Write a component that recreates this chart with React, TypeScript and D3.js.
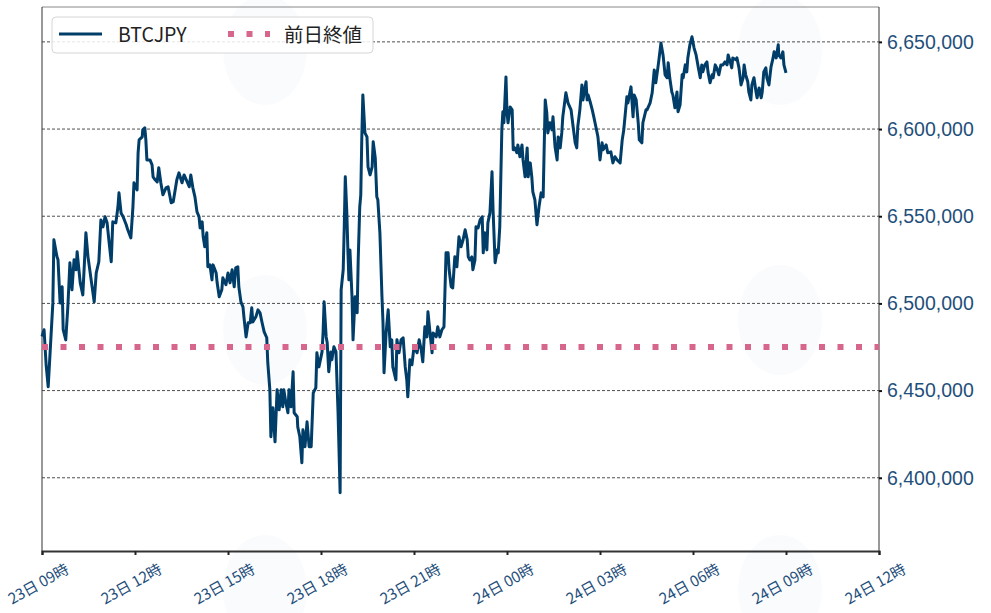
import React, { useEffect, useRef } from 'react';
import * as d3 from 'd3';

const seriesName = 'BTCJPY';
const prevCloseName = '前日終値';
const prevClose = 6475000;
const startTime = '2024-01-23T09:00';
const endTime = '2024-01-24T12:00';
const yTicks = [6400000, 6450000, 6500000, 6550000, 6600000, 6650000];

// minutes elapsed since 23日 09時
const minutes = [
  0, 4, 8, 12, 21, 23, 29, 31, 35, 39, 41, 46, 50, 54, 58, 62, 66, 68, 74, 79,
  85, 89, 97, 101, 105, 110, 114, 118, 122, 126, 130, 134, 137, 143, 147, 149, 153, 157, 163, 166,
  172, 176, 178, 184, 186, 188, 194, 195, 199, 201, 203, 209, 213, 215, 219, 223, 226, 230, 234, 240,
  244, 250, 254, 261, 265, 271, 275, 281, 285, 288, 292, 296, 300, 304, 306, 310, 312, 315, 319, 321,
  325, 329, 331, 337, 339, 343, 348, 350, 356, 360, 364, 368, 372, 375, 379, 381, 385, 389, 391, 395,
  399, 403, 406, 408, 414, 418, 422, 426, 430, 435, 437, 441, 443, 447, 451, 455, 459, 463, 466, 468,
  472, 476, 478, 482, 486, 488, 494, 495, 499, 503, 505, 509, 513, 517, 521, 525, 530, 532, 536, 542,
  544, 546, 550, 552, 555, 559, 561, 565, 569, 573, 577, 579, 583, 585, 587, 590, 592, 594, 596, 600,
  602, 606, 610, 612, 615, 617, 619, 621, 625, 629, 631, 635, 639, 641, 645, 648, 650, 654, 658, 660,
  662, 666, 670, 674, 677, 679, 685, 687, 691, 695, 699, 703, 706, 708, 712, 716, 720, 726, 730, 734,
  737, 741, 745, 747, 751, 755, 757, 763, 766, 770, 774, 778, 782, 786, 788, 792, 795, 799, 803, 807,
  811, 815, 819, 823, 825, 828, 832, 834, 838, 840, 844, 848, 852, 854, 857, 861, 863, 867, 871, 873,
  877, 881, 883, 886, 890, 892, 894, 898, 900, 902, 906, 910, 912, 915, 919, 921, 925, 929, 931, 935,
  939, 941, 945, 948, 950, 954, 958, 962, 966, 970, 972, 974, 977, 979, 983, 987, 989, 993, 997, 999,
  1003, 1006, 1008, 1014, 1018, 1024, 1028, 1032, 1035, 1037, 1041, 1045, 1047, 1053, 1055, 1057, 1061, 1065, 1068, 1072,
  1076, 1080, 1084, 1086, 1092, 1095, 1101, 1105, 1109, 1113, 1119, 1123, 1126, 1132, 1134, 1140, 1144, 1146, 1150, 1154,
  1156, 1161, 1163, 1169, 1171, 1177, 1181, 1185, 1188, 1192, 1194, 1198, 1202, 1206, 1210, 1212, 1215, 1219, 1221, 1225,
  1229, 1231, 1235, 1239, 1241, 1245, 1248, 1250, 1254, 1258, 1262, 1266, 1270, 1274, 1277, 1279, 1283, 1287, 1289, 1293,
  1297, 1299, 1303, 1306, 1310, 1314, 1318, 1322, 1326, 1328, 1332, 1335, 1337, 1343, 1345, 1349, 1353, 1357, 1359, 1362,
  1366, 1368, 1372, 1374, 1378, 1382, 1384, 1388, 1392, 1394, 1397, 1401, 1403, 1407, 1411, 1415, 1417, 1421, 1425, 1426,
  1430, 1434, 1436, 1440,
];

const prices = [
  6481000, 6484900, 6464800, 6452200, 6500300, 6536500, 6526700, 6525000, 6500300, 6509500,
  6484900, 6479100, 6498000, 6523300, 6507800, 6525000, 6519300, 6529600, 6511800, 6504900,
  6540500, 6526700, 6509500, 6500900, 6517500, 6523900, 6547900, 6543900, 6549700, 6546200,
  6534700, 6523900, 6546800, 6546200, 6555400, 6563400, 6551900, 6549700, 6545100, 6542200,
  6537600, 6555400, 6569200, 6565100, 6586400, 6593800, 6595500, 6599500, 6600700, 6593800,
  6582300, 6582300, 6579500, 6572600, 6570900, 6569700, 6577800, 6569200, 6562300, 6566300,
  6566900, 6557700, 6558300, 6570900, 6574900, 6569200, 6573700, 6569700, 6566900, 6573700,
  6566300, 6561100, 6552500, 6549700, 6543300, 6546800, 6538200, 6532500, 6540500, 6521000,
  6522100, 6513500, 6522100, 6517500, 6511800, 6503800, 6507800, 6514700, 6510700, 6517500,
  6511800, 6519300, 6509500, 6520400, 6521000, 6509500, 6500900, 6498000, 6491700, 6480800,
  6488900, 6488900, 6497500, 6489400, 6492300, 6496300, 6494600, 6488900, 6483700, 6480300,
  6466000, 6450500, 6423500, 6440100, 6420600, 6450500, 6439000, 6450500, 6440700, 6450500,
  6443000, 6437300, 6450500, 6440700, 6460800, 6437300, 6435000, 6429200, 6423500, 6408600,
  6427500, 6417800, 6432100, 6417800, 6417800, 6448700, 6451600, 6471700, 6463600, 6472200,
  6483100, 6500900, 6480800, 6477400, 6460800, 6472200, 6467700, 6475100, 6472200, 6437300,
  6391400, 6507800, 6519300, 6543900, 6572600, 6551900, 6530700, 6513500, 6530700, 6503800,
  6479100, 6503800, 6494600, 6525000, 6555400, 6562300, 6595500, 6619600, 6597800, 6595500,
  6578300, 6573700, 6578300, 6592700, 6583500, 6561100, 6559400, 6540500, 6503800, 6488900,
  6460200, 6483100, 6496300, 6475100, 6479100, 6463600, 6456200, 6479100, 6471700, 6479100,
  6480300, 6463600, 6456200, 6446400, 6467700, 6464800, 6475100, 6471700, 6479100, 6473400,
  6466500, 6486600, 6480800, 6495200, 6483100, 6471700, 6483100, 6480800, 6486600, 6480800,
  6484900, 6486600, 6529000, 6529000, 6519300, 6509500, 6508900, 6526700, 6521000, 6538200,
  6532500, 6536500, 6542200, 6536500, 6526700, 6525000, 6526700, 6519300, 6525000, 6543900,
  6543300, 6547900, 6549700, 6529000, 6540500, 6530700, 6546200, 6551900, 6575500, 6553700,
  6523300, 6530700, 6529000, 6543900, 6599500, 6609900, 6603600, 6629900, 6609300, 6603600,
  6612700, 6611000, 6588100, 6589200, 6586400, 6590900, 6584100, 6590900, 6582300, 6572600,
  6589200, 6572600, 6580600, 6572600, 6564000, 6559400, 6545100, 6555400, 6563400, 6561100,
  6589800, 6616700, 6609300, 6597800, 6603600, 6599500, 6607000, 6589800, 6582300, 6595500,
  6589200, 6597800, 6607000, 6620800, 6615000, 6611000, 6601300, 6592100, 6589200, 6601300,
  6611000, 6625300, 6616700, 6627100, 6616700, 6619600, 6615600, 6611000, 6607000, 6601300,
  6595500, 6582300, 6592100, 6588100, 6590900, 6586400, 6586900, 6580600, 6584100, 6582300,
  6580600, 6593800, 6599500, 6618500, 6615000, 6624200, 6607000, 6619600, 6616700, 6603600,
  6593800, 6592100, 6603600, 6611000, 6611000, 6615000, 6620800, 6633900, 6626500, 6635100,
  6639700, 6649400, 6642500, 6631100, 6629400, 6638000, 6629400, 6621300, 6619600, 6612200,
  6621300, 6609900, 6613900, 6631100, 6629400, 6636800, 6632800, 6640800, 6648300, 6652900,
  6646600, 6642500, 6635700, 6629400, 6636800, 6632800, 6636800, 6638500, 6632800, 6626500,
  6631100, 6629400, 6636800, 6635100, 6631100, 6636800, 6636800, 6638500, 6636800, 6642500,
  6638500, 6635100, 6640800, 6639700, 6640800, 6635100, 6625300, 6629400, 6636800, 6631100,
  6627100, 6621300, 6616700, 6625300, 6629400, 6621300, 6617900, 6623600, 6617900, 6621300,
  6632800, 6635100, 6629400, 6625300, 6635700, 6640800, 6644300, 6640800, 6648300, 6642500,
  6640800, 6644300, 6636800, 6632200,
];

const lineColor = '#003d68';
const closeColor = '#d6668c';
const labelColor = '#1f4f7b';

export default function App() {
  const svgRef = useRef<SVGSVGElement>(null);

  useEffect(() => {
    const svg = d3.select(svgRef.current);
    svg.selectAll('*').remove();

    const W = 991;
    const H = 613;
    const margin = { top: 7, right: 112, bottom: 62, left: 42 };
    const x0 = margin.left;
    const x1 = W - margin.right;
    const y0 = margin.top;
    const y1 = H - margin.bottom;

    const t0 = new Date(startTime);
    const data = minutes.map((m, i) => ({
      time: new Date(t0.getTime() + m * 60000),
      price: prices[i],
    }));

    const xScale = d3.scaleTime().domain([t0, new Date(endTime)]).range([x0, x1]);
    const yScale = d3.scaleLinear().domain([6358000, 6670000]).range([y1, y0]);

    // 透かし
    const wm = svg.append('g').attr('fill', '#f3f6fb').attr('opacity', 0.45);
    [[265, 50], [265, 330], [265, 590], [780, 50], [780, 320], [780, 590]].forEach(([cx, cy]) => {
      wm.append('ellipse').attr('cx', cx).attr('cy', cy).attr('rx', 42).attr('ry', 55);
    });

    // グリッド
    svg.append('g')
      .selectAll('line')
      .data(yTicks)
      .enter()
      .append('line')
      .attr('x1', x0)
      .attr('x2', x1)
      .attr('y1', d => yScale(d))
      .attr('y2', d => yScale(d))
      .attr('stroke', '#222')
      .attr('stroke-width', 0.8)
      .attr('stroke-dasharray', '3,2');

    // 枠
    svg.append('line').attr('x1', x0).attr('x2', x1).attr('y1', y0).attr('y2', y0)
      .attr('stroke', '#888').attr('stroke-width', 1);
    svg.append('line').attr('x1', x0).attr('x2', x0).attr('y1', y0).attr('y2', y1)
      .attr('stroke', '#333').attr('stroke-width', 1);

    // 右軸
    const yAxis = svg.append('g')
      .attr('transform', `translate(${x1},0)`)
      .call(d3.axisRight(yScale).tickValues(yTicks).tickSize(3).tickPadding(5).tickFormat(d => d3.format(',')(d as number)));
    yAxis.select('.domain').attr('stroke', '#333').attr('d', `M0,${y0}V${y1}`);
    yAxis.selectAll('.tick line').attr('stroke', '#111').attr('stroke-width', 2);
    yAxis.selectAll('.tick text')
      .attr('fill', labelColor)
      .style('font-size', '19.5px')
      .style('font-family', '"Liberation Sans", Arial, sans-serif');

    // 下軸
    const xAxis = svg.append('g')
      .attr('transform', `translate(0,${y1})`)
      .call(d3.axisBottom(xScale).ticks(d3.timeHour.every(3)).tickSize(4).tickFormat(d => d3.timeFormat('%d日 %H時')(d as Date)));
    xAxis.select('.domain').attr('stroke', '#333').attr('stroke-width', 2);
    xAxis.selectAll('.tick line').attr('stroke', '#222').attr('stroke-width', 2);
    xAxis.selectAll('.tick text')
      .attr('fill', labelColor)
      .attr('text-anchor', 'middle')
      .attr('y', 0)
      .attr('dy', '0.35em')
      .attr('transform', 'translate(-4,33) rotate(-29)')
      .style('font-size', '15px')
      .style('font-family', '"Noto Sans CJK JP", sans-serif');

    // 価格ライン
    const line = d3.line<typeof data[0]>()
      .x(d => xScale(d.time))
      .y(d => yScale(d.price));

    svg.append('path')
      .datum(data)
      .attr('fill', 'none')
      .attr('stroke', lineColor)
      .attr('stroke-width', 3)
      .attr('stroke-linejoin', 'round')
      .attr('d', line);

    // 前日終値
    svg.append('line')
      .attr('x1', x0)
      .attr('x2', x1)
      .attr('y1', yScale(prevClose))
      .attr('y2', yScale(prevClose))
      .attr('stroke', closeColor)
      .attr('stroke-width', 6)
      .attr('stroke-dasharray', '6,12.5');

    // 凡例
    const font = '"Noto Sans CJK JP", sans-serif';
    const lg = svg.append('g').attr('transform', 'translate(52,17)');
    lg.append('rect')
      .attr('width', 321)
      .attr('height', 36)
      .attr('rx', 4)
      .attr('fill', '#fff')
      .attr('fill-opacity', 0.85)
      .attr('stroke', '#d6d6d6');
    lg.append('line').attr('x1', 7).attr('x2', 50).attr('y1', 17).attr('y2', 17)
      .attr('stroke', lineColor).attr('stroke-width', 3);
    lg.append('text').attr('x', 66).attr('y', 24.5).text(seriesName)
      .style('font-size', '19.5px').style('font-family', font).attr('fill', '#222');
    lg.append('line').attr('x1', 176).attr('x2', 218).attr('y1', 17).attr('y2', 17)
      .attr('stroke', closeColor).attr('stroke-width', 6).attr('stroke-dasharray', '6,12.5');
    lg.append('text').attr('x', 232).attr('y', 24.5).text(prevCloseName)
      .style('font-size', '19.5px').style('font-family', font).attr('fill', '#222');
  }, []);

  return (
    <svg
      ref={svgRef}
      width={991}
      height={613}
      style={{ position: 'absolute', left: 0, top: 0, background: '#fff' }}
    />
  );
}
